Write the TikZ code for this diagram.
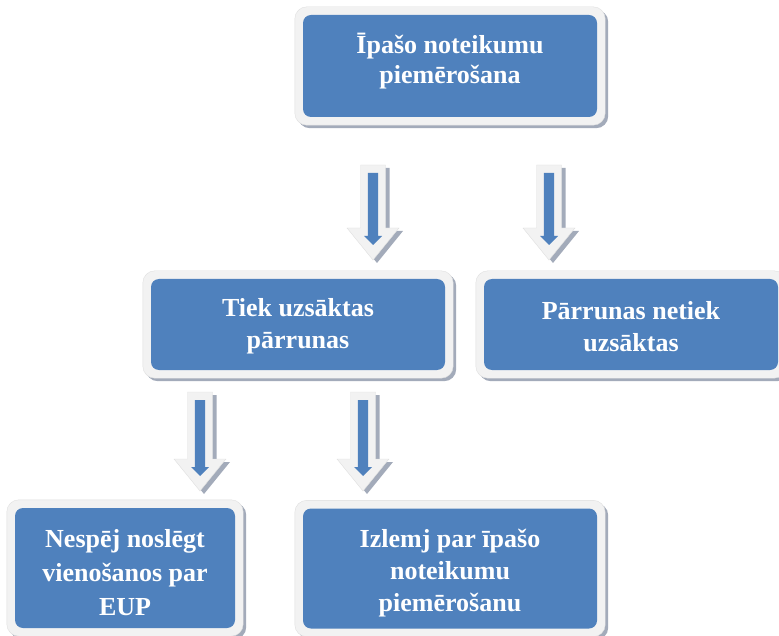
\documentclass[tikz,border=0pt]{standalone}
\usepackage{fontspec}
\setmainfont{Liberation Serif}
\usetikzlibrary{backgrounds}
\definecolor{boxblue}{HTML}{4F81BD}
\definecolor{framecol}{HTML}{F2F2F2}
\definecolor{shadowcol}{HTML}{A3ABBA}
\tikzset{
  bluebox/.style={fill=boxblue, rounded corners=8pt, inner sep=0pt},
  boxtext/.style={text=white, font=\fontsize{26}{32}\selectfont\bfseries, align=center, inner sep=0pt},
}
\newcommand\myframe[1]{%
  \fill[shadowcol, rounded corners=12pt] ([shift={(-5,-5)}]#1.north west) rectangle ([shift={(11,11)}]#1.south east);
  \fill[framecol, draw=gray!25, rounded corners=12pt] ([shift={(-8,-8)}]#1.north west) rectangle ([shift={(8,8)}]#1.south east);
}
% block arrow: #1 = name of top coordinate, #2 = length
\newcommand\myblockarrow[2]{%
  \begin{scope}[shift={(#1)}]
    \pgfmathsetmacro\hs{#2-32}
    \pgfmathsetmacro\ihs{#2-24}
    \pgfmathsetmacro\itip{#2-15}
    \fill[shadowcol] (-8.5,3) -- (16.5,3) -- (16.5,\hs+3) -- (30,\hs+3) -- (4,#2+3) -- (-22,\hs+3) -- (-8.5,\hs+3) -- cycle;
    \fill[framecol, draw=gray!25] (-12.5,0) -- (12.5,0) -- (12.5,\hs) -- (26,\hs) -- (0,#2) -- (-26,\hs) -- (-12.5,\hs) -- cycle;
    \fill[boxblue] (-5.2,8) -- (5.2,8) -- (5.2,\ihs) -- (9,\ihs) -- (0,\itip) -- (-9,\ihs) -- (-5.2,\ihs) -- cycle;
  \end{scope}}
\begin{document}
\begin{tikzpicture}[x=1pt, y=-1pt]
  \useasboundingbox (0,0) rectangle (779,636);
  \node[bluebox, minimum width=294pt, minimum height=102pt] (a) at (450,66) {};
  \node[bluebox, minimum width=294pt, minimum height=91pt] (b) at (298,324.5) {};
  \node[bluebox, minimum width=294pt, minimum height=91pt] (c) at (631,324.5) {};
  \node[bluebox, minimum width=220pt, minimum height=120pt] (d) at (125,568) {};
  \node[bluebox, minimum width=294pt, minimum height=120pt] (e) at (450,568.5) {};
  \node[boxtext, font=\fontsize{26}{30}\selectfont\bfseries] (at) at ([yshift=5pt]a.center) {Īpašo noteikumu\\piemērošana};
  \node[boxtext] (bt) at ([yshift=-2pt]b.center) {Tiek uzsāktas\\pārrunas};
  \node[boxtext] (ct) at ([yshift=-2pt]c.center) {Pārrunas netiek\\uzsāktas};
  \node[boxtext, font=\fontsize{26}{34}\selectfont\bfseries] (dt) at ([yshift=-5pt]d.center) {Nespēj noslēgt\\vienošanos par\\EUP};
  \node[boxtext] (et) at ([yshift=-5pt]e.center) {Izlemj par īpašo\\noteikumu\\piemērošanu};
  \begin{scope}[on background layer]
    \myframe{a}
    \myframe{b}
    \myframe{c}
    \myframe{d}
    \myframe{e}
  \end{scope}
  \coordinate (ab) at (373,165);
  \coordinate (ac) at (549,165);
  \coordinate (bd) at (200,392);
  \coordinate (be) at (363,392);
  \myblockarrow{ab}{95}
  \myblockarrow{ac}{95}
  \myblockarrow{bd}{99}
  \myblockarrow{be}{99}
\end{tikzpicture}
\end{document}
